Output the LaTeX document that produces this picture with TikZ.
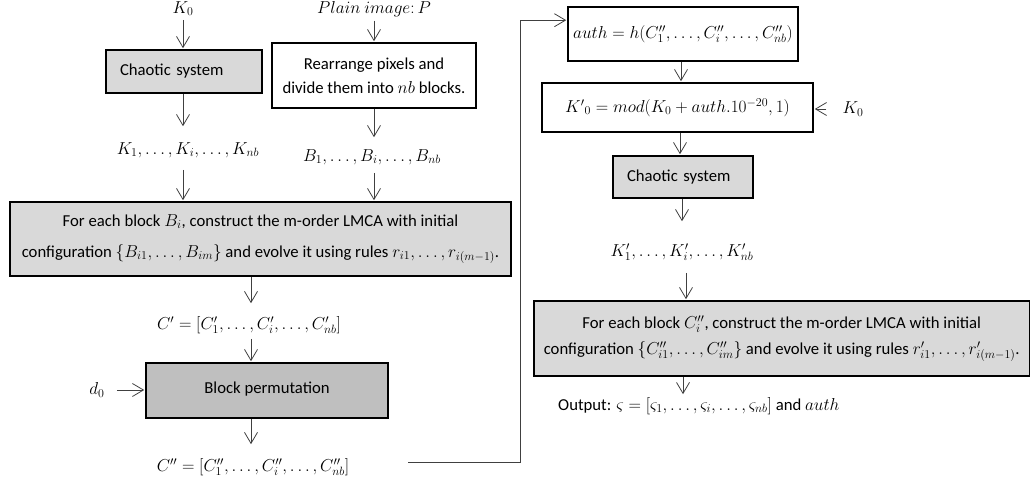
\documentclass[tikz,border=0pt]{standalone}
\usepackage{fontspec}
\setmainfont{Carlito}
\usetikzlibrary{arrows.meta,calc}
\definecolor{lightfill}{HTML}{D9D9D9}
\definecolor{midfill}{HTML}{BFBFBF}
\definecolor{wire}{HTML}{404040}

\begin{document}
\begin{tikzpicture}[x=1pt,y=-1pt,
  font=\fontsize{16.7}{20}\selectfont,
  box/.style={draw=black,line width=1.6pt,inner sep=0pt,align=center},
  lightbox/.style={box,fill=lightfill},
  darkbox/.style={box,fill=midfill},
  tag/.style={inner sep=0pt},
  arr/.style={draw=wire,line width=0.8pt,
    -{Straight Barb[length=11pt,width=13pt,line width=0.8pt]}}]

\path[use as bounding box] (0,0) rectangle (1031,482);

% ---------- encryption branch ----------
\node[tag, anchor=base] (k0) at (183,13) {$K_0$};
\node[tag, anchor=base] (plain) at (374,13) {$Plain\ image\colon P$};

\node[lightbox, minimum width=156pt, minimum height=43pt,
      text width=128pt, align=left] (chaos1) at (184,71.5) {Chaotic system};

\node[box, fill=white, minimum width=204pt, minimum height=65pt] (rearr) at (374,75.5)
  {Rearrange pixels and\\[4pt] divide them into $nb$ blocks.};

\node[tag] (kseq) at (188,150) {$K_1,\ldots,K_i,\ldots,K_{nb}$};
\node[tag] (bseq) at (372,157) {$B_1,\ldots,B_i,\ldots,B_{nb}$};

\node[lightbox, minimum width=501pt, minimum height=74pt] (lmca1) at (260.5,239)
  {For each block $B_i$, construct the m-order LMCA with initial\\[11pt]
   configuration $\{B_{i1},\ldots,B_{im}\}$ and evolve it using rules $r_{i1},\ldots,r_{i(m-1)}$.};

\node[tag] (cprime) at (249,325) {$C'=[C'_1,\ldots,C'_i,\ldots,C'_{nb}]$};

\node[darkbox, minimum width=242pt, minimum height=55pt] (perm) at (267,390.5)
  {\raisebox{5pt}{Block permutation}};
\node[tag] (d0) at (97,390) {$d_0$};

\node[tag] (cdprime) at (253,467) {$C''=[C''_1,\ldots,C''_i,\ldots,C''_{nb}]$};

% ---------- authentication branch ----------
\node[box, fill=white, minimum width=230pt, minimum height=54pt] (auth) at (683,34)
  {\raisebox{4pt}{$auth=h(C''_1,\ldots,C''_i,\ldots,C''_{nb})$}};

\node[box, fill=white, minimum width=271pt, minimum height=49pt] (kp0) at (677.5,107.5)
  {${K'}_0=mod(K_0+auth.10^{-20},1)$};
\node[tag] (k0r) at (853,109) {$K_0$};

\node[lightbox, minimum width=140pt, minimum height=42pt,
      text width=112pt, align=left] (chaos2) at (683,177) {Chaotic system};

\node[tag] (kpseq) at (682,252) {$K'_1,\ldots,K'_i,\ldots,K'_{nb}$};

\node[lightbox, minimum width=495.5pt, minimum height=75pt] (lmca2) at (781.75,338.5)
  {For each block $C''_i$,\ construct the m-order LMCA with initial\\[6pt]
   configuration $\{C''_{i1},\ldots,C''_{im}\}$ and evolve it using rules $r'_{i1},\ldots,r'_{i(m-1)}$.};

\node[tag, anchor=west] (out) at (558,406)
  {Output: $\varsigma=[\varsigma_1,\ldots,\varsigma_i,\ldots,\varsigma_{nb}]$ and $auth$};

% ---------- connectors ----------
\draw[arr, shorten <=4pt, shorten >=1pt] (k0.south) -- (k0.south |- chaos1.north);
\draw[arr, shorten >=16pt] (chaos1.south -| k0) -- (k0 |- kseq.north);
\draw[arr, shorten <=12pt, shorten >=1pt] (k0 |- kseq.south) -- (k0 |- lmca1.north);

\draw[arr, shorten <=4pt, shorten >=1pt] (plain.south -| rearr) -- (rearr.north);
\draw[arr, shorten >=12pt] (rearr.south) -- (bseq.north -| rearr);
\draw[arr, shorten <=8pt, shorten >=1pt] (bseq.south -| rearr) -- (lmca1.north -| rearr);

\draw[arr, shorten >=13pt] (lmca1.south -| 251,0) -- (cprime.north -| 251,0);
\draw[arr, shorten <=5pt, shorten >=1pt] (cprime.south -| 251,0) -- (perm.north -| 251,0);
\draw[arr, shorten <=12pt, shorten >=1pt] (d0.east) -- (perm.west |- d0.east);
\draw[arr, shorten >=14pt] (perm.south -| 251,0) -- (cdprime.north -| 251,0);

\coordinate (routestart) at (408,462);
\coordinate (routeturn) at (520,462);
\coordinate (authin) at ($(auth.north west)+(0,14)$);
\draw[arr, shorten >=1pt] (routestart) -- (routeturn) |- (authin);

\draw[arr, shorten >=1pt] (auth.south -| 681,0) -- (kp0.north -| 681,0);
\draw[arr, shorten <=16pt, shorten >=1pt] (k0r.west) -- (kp0.east |- k0r.west);
\draw[arr, shorten >=1pt] (kp0.south -| 680,0) -- (chaos2.north -| 680,0);
\draw[arr, shorten >=22pt] (chaos2.south -| 682,0) -- (kpseq.north -| 682,0);
\draw[arr, shorten <=12pt, shorten >=1pt] (kpseq.south -| 686,0) -- (lmca2.north -| 686,0);
\draw[arr, shorten >=3pt] (lmca2.south -| 683,0) -- (out.north -| 683,0);

\end{tikzpicture}
\end{document}
